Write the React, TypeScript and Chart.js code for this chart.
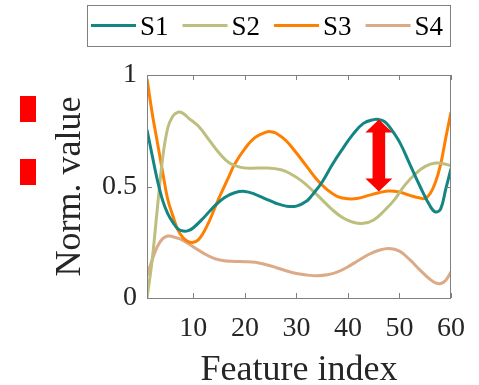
import React, { useEffect, useRef } from "react";
import { Chart, registerables } from "chart.js";

Chart.register(...registerables);

const seriesLabels = ["S1", "S2", "S3", "S4"];
const seriesColors = ["#138583", "#bcbf7d", "#ff8001", "#dcaa86"];

const s1Index = [1, 2, 3, 4, 5, 6, 7, 8, 9, 10, 12, 14, 16, 18, 20, 22, 24, 26, 28, 30, 32, 33, 35, 37, 39, 41, 43, 45, 46, 47, 48, 50, 52, 54, 56, 57, 58, 59, 60];
const s1Values = [0.754, 0.64, 0.53, 0.44, 0.38, 0.34, 0.31, 0.3, 0.302, 0.315, 0.36, 0.41, 0.45, 0.472, 0.478, 0.465, 0.445, 0.425, 0.412, 0.412, 0.435, 0.46, 0.52, 0.6, 0.67, 0.735, 0.783, 0.8, 0.8, 0.793, 0.77, 0.7, 0.6, 0.5, 0.41, 0.386, 0.4, 0.49, 0.58];

const s2Index = [1, 2, 3, 4, 5, 6, 7, 8, 9, 11, 13, 15, 17, 19, 21, 24, 27, 29, 31, 33, 35, 37, 39, 41, 43, 45, 47, 49, 51, 53, 55, 57, 59, 60];
const s2Values = [0, 0.17, 0.4, 0.62, 0.76, 0.815, 0.833, 0.828, 0.808, 0.77, 0.71, 0.65, 0.605, 0.587, 0.582, 0.583, 0.575, 0.555, 0.525, 0.485, 0.44, 0.395, 0.36, 0.34, 0.335, 0.35, 0.39, 0.44, 0.505, 0.555, 0.59, 0.605, 0.6, 0.593];

const s3Index = [1, 2, 3, 4, 5, 6, 7, 8, 9, 10, 11, 12, 13, 14, 15, 16, 17, 18, 20, 22, 24, 25, 26, 28, 30, 32, 34, 36, 38, 40, 42, 44, 46, 48, 50, 52, 54, 55, 56, 57, 58, 59, 60];
const s3Values = [0.983, 0.83, 0.7, 0.57, 0.445, 0.37, 0.305, 0.27, 0.253, 0.25, 0.262, 0.295, 0.34, 0.395, 0.45, 0.5, 0.55, 0.6, 0.67, 0.72, 0.743, 0.746, 0.74, 0.705, 0.65, 0.59, 0.53, 0.485, 0.455, 0.445, 0.447, 0.46, 0.472, 0.48, 0.475, 0.46, 0.448, 0.447, 0.47, 0.52, 0.6, 0.72, 0.834];

const s4Index = [1, 2, 3, 4, 5, 6, 7, 8, 10, 12, 14, 16, 18, 20, 22, 24, 26, 28, 30, 32, 34, 36, 38, 40, 42, 44, 46, 48, 50, 52, 54, 56, 57, 58, 59, 60];
const s4Values = [0.1, 0.17, 0.23, 0.265, 0.278, 0.275, 0.268, 0.258, 0.229, 0.2, 0.178, 0.167, 0.164, 0.163, 0.16, 0.15, 0.137, 0.122, 0.11, 0.103, 0.1, 0.104, 0.117, 0.14, 0.168, 0.195, 0.214, 0.222, 0.21, 0.172, 0.125, 0.082, 0.068, 0.065, 0.08, 0.117];

const seriesIndex = [s1Index, s2Index, s3Index, s4Index];
const seriesValues = [s1Values, s2Values, s3Values, s4Values];

const xTickValues = [10, 20, 30, 40, 50, 60];
const yTickValues = [0, 0.5, 1];
const xRange = [1, 60];
const yRange = [0, 1];

const arrowIndex = 46;
const arrowFrom = 0.478;
const arrowTo = 0.8;

const xTitle = "Feature index";
const yTitle = "Norm. value";

const FAMILY = "'Liberation Serif', 'Times New Roman', serif";
const TEXT = "#262626";
const FRAME = "#808080";

const framePlugin = {
  id: "frame",
  afterDatasetsDraw(chart: any) {
    const { ctx, chartArea } = chart;
    const xs = chart.scales.x;
    const ys = chart.scales.y;
    const { left, right, top, bottom } = chartArea;
    ctx.save();
    ctx.strokeStyle = FRAME;
    ctx.lineWidth = 1;
    ctx.strokeRect(Math.round(left) + 0.5, Math.round(top) + 0.5, Math.round(right - left) - 1, Math.round(bottom - top));
    const tl = 5;
    ctx.beginPath();
    xTickValues.forEach((v) => {
      const px = Math.round(xs.getPixelForValue(v)) + 0.5;
      ctx.moveTo(px, bottom);
      ctx.lineTo(px, bottom - tl);
      ctx.moveTo(px, top);
      ctx.lineTo(px, top + tl);
    });
    yTickValues.forEach((v) => {
      const py = Math.round(ys.getPixelForValue(v)) + 0.5;
      ctx.moveTo(left, py);
      ctx.lineTo(left + tl, py);
      ctx.moveTo(right, py);
      ctx.lineTo(right - tl, py);
    });
    ctx.stroke();
    ctx.restore();
  },
};

const arrowPlugin = {
  id: "arrow",
  afterDatasetsDraw(chart: any) {
    const { ctx } = chart;
    const x = chart.scales.x.getPixelForValue(arrowIndex);
    const yTop = chart.scales.y.getPixelForValue(arrowTo);
    const yBot = chart.scales.y.getPixelForValue(arrowFrom);
    const headLen = 13;
    const headHalf = 13.5;
    const shaftHalf = 6.3;
    ctx.save();
    ctx.fillStyle = "#ff0000";
    ctx.beginPath();
    ctx.moveTo(x, yTop);
    ctx.lineTo(x + headHalf, yTop + headLen);
    ctx.lineTo(x + shaftHalf, yTop + headLen);
    ctx.lineTo(x + shaftHalf, yBot - headLen);
    ctx.lineTo(x + headHalf, yBot - headLen);
    ctx.lineTo(x, yBot);
    ctx.lineTo(x - headHalf, yBot - headLen);
    ctx.lineTo(x - shaftHalf, yBot - headLen);
    ctx.lineTo(x - shaftHalf, yTop + headLen);
    ctx.lineTo(x - headHalf, yTop + headLen);
    ctx.closePath();
    ctx.fill();
    ctx.restore();
  },
};

const legendPlugin = {
  id: "boxLegend",
  afterDraw(chart: any) {
    const { ctx, chartArea } = chart;
    ctx.save();
    ctx.font = `27px ${FAMILY}`;
    const widths = seriesLabels.map((l) => ctx.measureText(l).width);
    const lineLen = 45;
    const gapText = 4;
    const gapItem = 14;
    const padL = 4;
    const padR = 8;
    let total = padL + padR + gapItem * (seriesLabels.length - 1);
    widths.forEach((w) => (total += lineLen + gapText + w));
    const right = Math.round(chartArea.right);
    const left = right - Math.round(total);
    const top = 5;
    const height = 41;
    ctx.fillStyle = "#ffffff";
    ctx.fillRect(left, top, right - left, height);
    ctx.strokeStyle = FRAME;
    ctx.lineWidth = 1;
    ctx.strokeRect(left + 0.5, top + 0.5, right - left - 1, height);
    let x = left + padL;
    const cy = 25.5;
    seriesLabels.forEach((label, k) => {
      ctx.strokeStyle = seriesColors[k];
      ctx.lineWidth = 3;
      ctx.beginPath();
      ctx.moveTo(x, cy);
      ctx.lineTo(x + lineLen, cy);
      ctx.stroke();
      x += lineLen + gapText;
      ctx.fillStyle = "#000000";
      ctx.textBaseline = "alphabetic";
      ctx.textAlign = "left";
      ctx.fillText(label, x, 35);
      x += widths[k] + gapItem;
    });
    ctx.restore();
  },
};

export default function App() {
  const canvasRef = useRef<HTMLCanvasElement | null>(null);

  useEffect(() => {
    const canvas = canvasRef.current;
    if (!canvas) return;
    const chart = new Chart(canvas, {
      type: "line",
      data: {
        datasets: seriesLabels.map((label, k) => ({
          label,
          data: seriesIndex[k].map((x, j) => ({ x, y: seriesValues[k][j] })),
          borderColor: seriesColors[k],
          backgroundColor: seriesColors[k],
          borderWidth: 3,
          pointRadius: 0,
          fill: false,
          tension: 0.4,
        })),
      },
      options: {
        animation: false,
        responsive: false,
        maintainAspectRatio: false,
        events: [],
        layout: { padding: { top: 75, right: 18, bottom: 0, left: 50 } },
        plugins: { legend: { display: false }, tooltip: { enabled: false } },
        scales: {
          x: {
            type: "linear",
            min: xRange[0],
            max: xRange[1],
            afterBuildTicks: (s: any) => {
              s.ticks = xTickValues.map((v) => ({ value: v }));
            },
            afterFit: (s: any) => {
              s.height = 87;
            },
            grid: { display: false, drawTicks: false },
            border: { display: false },
            ticks: {
              font: { family: FAMILY, size: 28 },
              color: TEXT,
              padding: 14,
              maxRotation: 0,
              autoSkip: false,
              callback: (v: any) => String(v),
            },
            title: {
              display: true,
              text: xTitle,
              color: TEXT,
              font: { family: FAMILY, size: 36, lineHeight: 0.78 },
              padding: 0,
            },
          },
          y: {
            type: "linear",
            min: yRange[0],
            max: yRange[1],
            afterBuildTicks: (s: any) => {
              s.ticks = yTickValues.map((v) => ({ value: v }));
            },
            afterFit: (s: any) => {
              s.width = 97;
            },
            grid: { display: false, drawTicks: false },
            border: { display: false },
            ticks: {
              font: { family: FAMILY, size: 28 },
              color: TEXT,
              padding: 10,
              callback: (v: any) => String(v),
            },
            title: {
              display: true,
              text: yTitle,
              color: TEXT,
              font: { family: FAMILY, size: 36, lineHeight: 1.15 },
              padding: { top: 0, bottom: 0 },
            },
          },
        },
      },
      plugins: [framePlugin, arrowPlugin, legendPlugin],
    });
    return () => chart.destroy();
  }, []);

  const square = (top: number): React.CSSProperties => ({
    position: "absolute",
    left: 20,
    top,
    width: 16,
    height: 26,
    background: "#ff0000",
  });

  return (
    <div style={{ position: "fixed", left: 0, top: 0, width: 479, height: 385, background: "#ffffff" }}>
      <canvas ref={canvasRef} width={479} height={385} style={{ display: "block", width: 479, height: 385 }} />
      <div style={square(96)} />
      <div style={square(159)} />
    </div>
  );
}
